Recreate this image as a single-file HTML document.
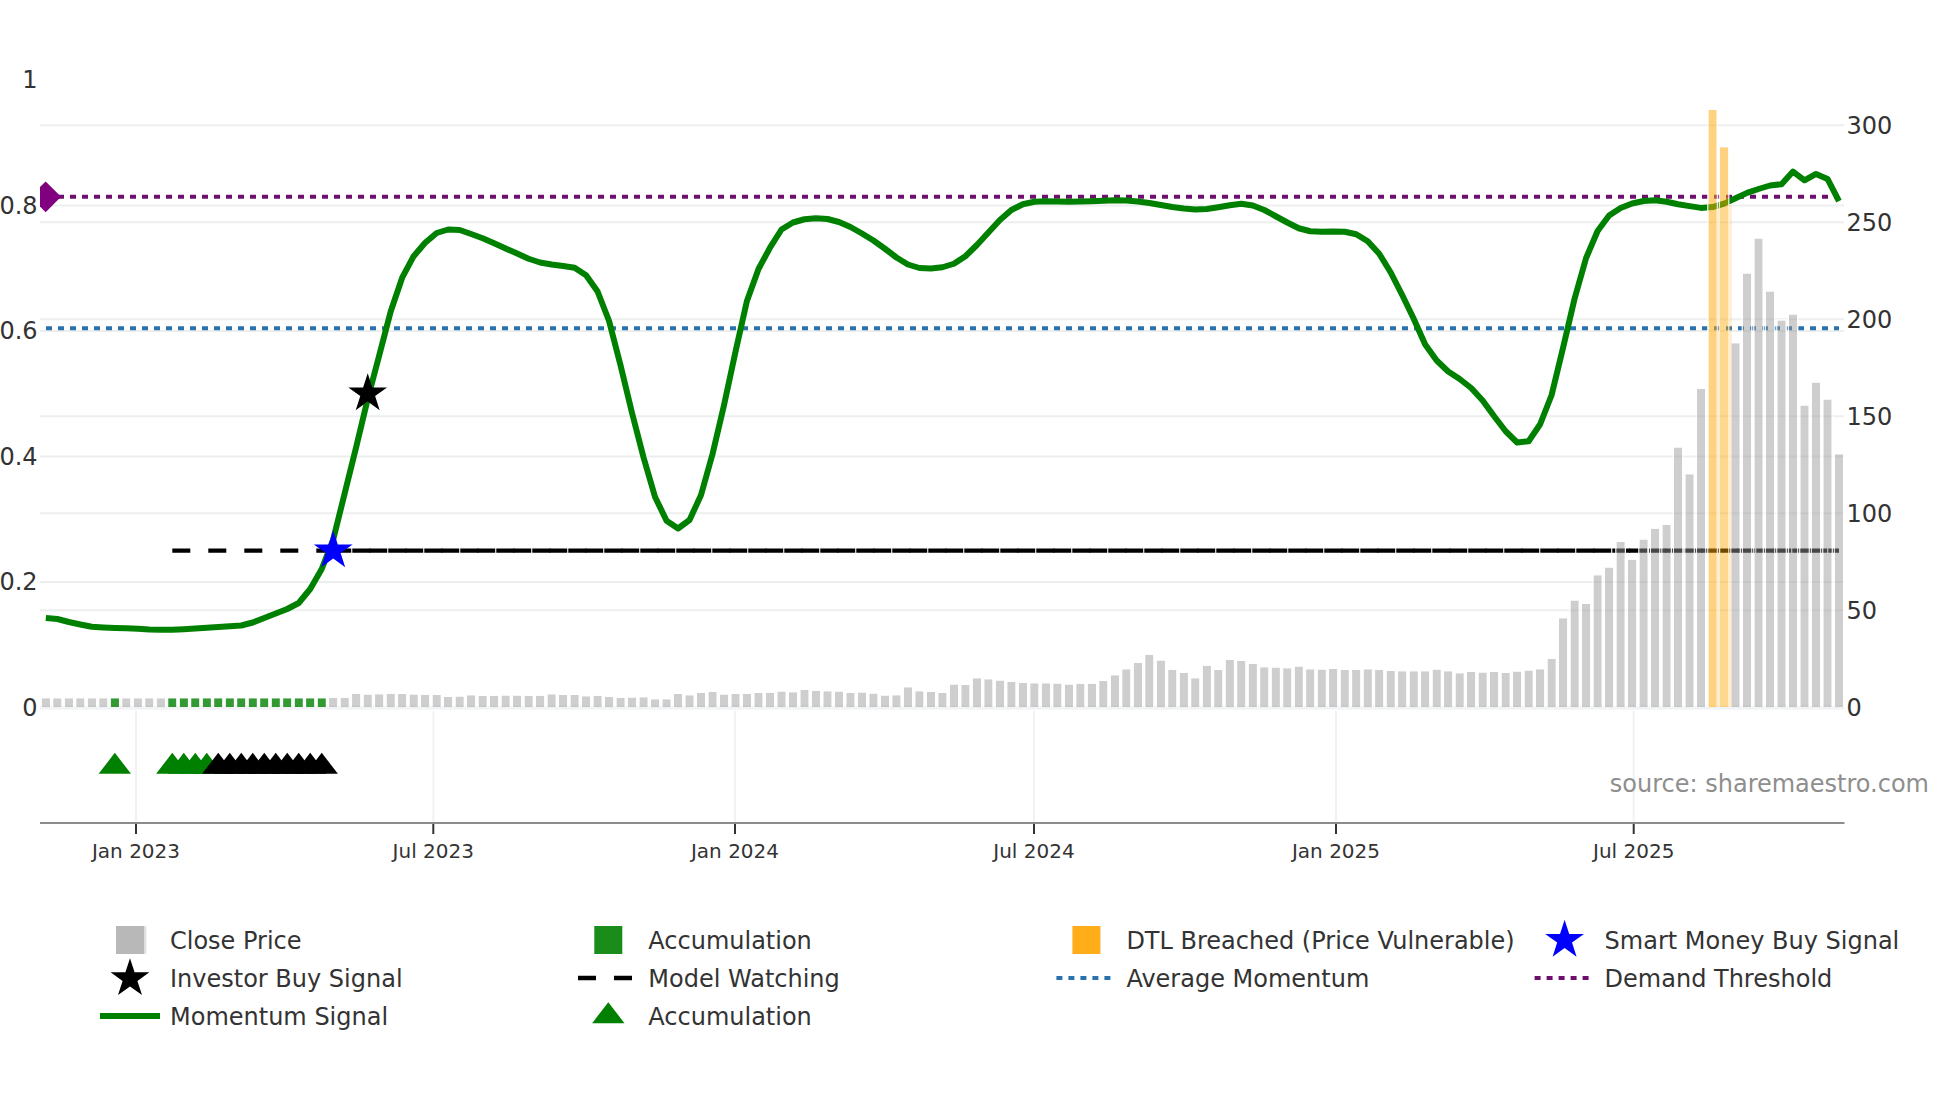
<!DOCTYPE html>
<html><head><meta charset="utf-8"><title>Momentum chart</title>
<style>html,body{margin:0;padding:0;background:#fff}svg{display:block}text{font-family:"DejaVu Sans", "Liberation Sans", sans-serif}</style>
</head><body>
<svg width="1960" height="1102" viewBox="0 0 1960 1102">
<rect width="1960" height="1102" fill="#ffffff"/>
<g stroke="#edefef" stroke-width="2" fill="none">
<line x1="40" x2="1844" y1="125.3" y2="125.3"/>
<line x1="40" x2="1844" y1="222.3" y2="222.3"/>
<line x1="40" x2="1844" y1="319.3" y2="319.3"/>
<line x1="40" x2="1844" y1="416.3" y2="416.3"/>
<line x1="40" x2="1844" y1="513.3" y2="513.3"/>
<line x1="40" x2="1844" y1="610.3" y2="610.3"/>
<line x1="40" x2="1844" y1="581.9" y2="581.9"/>
<line x1="40" x2="1844" y1="456.4" y2="456.4"/>
<line x1="40" x2="1844" y1="330.9" y2="330.9"/>
<line x1="40" x2="1844" y1="205.4" y2="205.4"/>
</g>
<line x1="40" x2="1844" y1="707.5" y2="707.5" stroke="#f0f2f3" stroke-width="4"/>
<g stroke="#f1f2f7" stroke-width="2">
<line x1="136.0" x2="136.0" y1="711" y2="823"/>
<line x1="433.3" x2="433.3" y1="711" y2="823"/>
<line x1="735.0" x2="735.0" y1="711" y2="823"/>
<line x1="1034.0" x2="1034.0" y1="711" y2="823"/>
<line x1="1336.0" x2="1336.0" y1="711" y2="823"/>
<line x1="1633.7" x2="1633.7" y1="711" y2="823"/>
</g>
<defs><clipPath id="cp"><rect x="40" y="60" width="1804" height="763"/></clipPath></defs>
<g clip-path="url(#cp)">
<line x1="46.00" x2="1838.99" y1="328.3" y2="328.3" stroke="#2a72ad" stroke-width="4" stroke-dasharray="6,6"/>
<line x1="46.00" x2="1838.99" y1="196.8" y2="196.8" stroke="#6e0f70" stroke-width="4" stroke-dasharray="6,6"/>
<path d="M61.05,196.80L45.65,212.20L30.25,196.80L45.65,181.40Z" fill="#800080"/>
<line x1="172.29" x2="1838.99" y1="550.6" y2="550.6" stroke="#000" stroke-width="4.2" stroke-dasharray="18,18"/>
<line x1="333.21" x2="1838.99" y1="550.6" y2="550.6" stroke="#000" stroke-width="4.2" stroke-dasharray="18,18"/>
<polyline points="45.85,618.00 57.34,619.00 68.84,622.00 80.33,624.50 91.83,626.75 103.32,627.50 114.82,628.00 126.31,628.25 137.81,628.75 149.30,629.50 160.80,629.75 172.29,629.75 183.78,629.25 195.28,628.50 206.77,627.75 218.27,627.00 229.76,626.25 241.26,625.50 252.75,622.50 264.25,618.00 275.74,613.50 287.23,609.00 298.73,603.00 310.22,589.00 321.72,569.00 333.21,539.50 344.71,493.30 356.20,447.00 367.70,399.00 379.19,355.50 390.69,311.50 402.18,277.70 413.67,256.20 425.17,242.80 436.66,233.00 448.16,229.50 459.65,230.00 471.15,234.00 482.64,238.25 494.14,243.25 505.63,248.50 517.12,253.50 528.62,258.75 540.11,262.50 551.61,264.50 563.10,266.00 574.60,267.75 586.09,275.30 597.59,291.50 609.08,321.00 620.58,365.40 632.07,413.10 643.56,457.50 655.06,497.00 666.55,520.70 678.05,528.50 689.54,520.00 701.04,495.00 712.53,454.00 724.03,405.10 735.52,351.60 747.01,300.70 758.51,269.00 770.00,247.70 781.50,229.50 792.99,222.50 804.49,219.25 815.98,218.25 827.48,219.00 838.97,222.00 850.47,227.00 861.96,233.50 873.45,240.50 884.95,248.75 896.44,257.50 907.94,264.50 919.43,268.00 930.93,268.50 942.42,267.25 953.92,263.75 965.41,256.25 976.90,245.00 988.40,232.50 999.89,220.00 1011.39,210.00 1022.88,204.25 1034.38,201.75 1045.87,201.25 1057.37,201.50 1068.86,201.75 1080.36,201.50 1091.85,201.25 1103.34,200.75 1114.84,200.25 1126.33,200.50 1137.83,201.50 1149.32,203.00 1160.82,205.00 1172.31,207.00 1183.81,208.50 1195.30,209.50 1206.79,209.00 1218.29,207.25 1229.78,205.25 1241.28,203.75 1252.77,205.50 1264.27,210.00 1275.76,216.25 1287.26,222.50 1298.75,228.25 1310.24,231.25 1321.74,231.75 1333.23,231.50 1344.73,231.75 1356.22,234.25 1367.72,241.25 1379.21,253.75 1390.71,272.50 1402.20,295.00 1413.70,318.75 1425.19,344.50 1436.68,360.50 1448.18,371.50 1459.67,379.00 1471.17,388.00 1482.66,400.50 1494.16,416.25 1505.65,431.25 1517.15,442.50 1528.64,441.25 1540.13,424.25 1551.63,395.00 1563.12,347.50 1574.62,298.50 1586.11,258.00 1597.61,231.00 1609.10,215.50 1620.60,208.00 1632.09,203.50 1643.59,201.00 1655.08,200.30 1666.57,201.70 1678.07,204.20 1689.56,206.10 1701.06,207.90 1712.55,207.10 1724.05,203.60 1735.54,198.30 1747.04,192.90 1758.53,189.00 1770.02,185.50 1781.52,184.20 1793.01,171.60 1804.51,180.30 1816.00,173.90 1827.50,178.90 1838.99,201.10" fill="none" stroke="#008000" stroke-width="6" stroke-linejoin="round" stroke-linecap="butt"/>
<path d="M337.80,544.40L352.61,544.40L340.62,553.11L345.21,567.20L333.21,558.49L321.22,567.20L325.81,553.11L313.81,544.40L328.62,544.40L333.21,530.30Z" fill="#0000ff"/>
<path d="M372.29,387.40L387.10,387.40L375.10,396.11L379.69,410.20L367.70,401.49L355.70,410.20L360.29,396.11L348.30,387.40L363.11,387.40L367.70,373.30Z" fill="#000000"/>
<rect x="41.70" y="698.25" width="8.30" height="8.75" fill="#969696" fill-opacity="0.47"/><path d="M41.10,707V697.65H50.60V707" fill="none" stroke="#fff" stroke-width="1.20"/>
<rect x="53.19" y="698.25" width="8.30" height="8.75" fill="#969696" fill-opacity="0.47"/><path d="M52.59,707V697.65H62.09V707" fill="none" stroke="#fff" stroke-width="1.20"/>
<rect x="64.69" y="698.25" width="8.30" height="8.75" fill="#969696" fill-opacity="0.47"/><path d="M64.09,707V697.65H73.59V707" fill="none" stroke="#fff" stroke-width="1.20"/>
<rect x="76.18" y="698.25" width="8.30" height="8.75" fill="#969696" fill-opacity="0.47"/><path d="M75.58,707V697.65H85.08V707" fill="none" stroke="#fff" stroke-width="1.20"/>
<rect x="87.68" y="698.25" width="8.30" height="8.75" fill="#969696" fill-opacity="0.47"/><path d="M87.08,707V697.65H96.58V707" fill="none" stroke="#fff" stroke-width="1.20"/>
<rect x="99.17" y="698.25" width="8.30" height="8.75" fill="#969696" fill-opacity="0.47"/><path d="M98.57,707V697.65H108.07V707" fill="none" stroke="#fff" stroke-width="1.20"/>
<rect x="110.67" y="698.25" width="8.30" height="8.75" fill="#008000" fill-opacity="0.8"/><path d="M110.07,707V697.65H119.57V707" fill="none" stroke="#fff" stroke-width="1.20"/>
<rect x="122.16" y="698.25" width="8.30" height="8.75" fill="#969696" fill-opacity="0.47"/><path d="M121.56,707V697.65H131.06V707" fill="none" stroke="#fff" stroke-width="1.20"/>
<rect x="133.66" y="698.25" width="8.30" height="8.75" fill="#969696" fill-opacity="0.47"/><path d="M133.06,707V697.65H142.56V707" fill="none" stroke="#fff" stroke-width="1.20"/>
<rect x="145.15" y="698.25" width="8.30" height="8.75" fill="#969696" fill-opacity="0.47"/><path d="M144.55,707V697.65H154.05V707" fill="none" stroke="#fff" stroke-width="1.20"/>
<rect x="156.65" y="698.25" width="8.30" height="8.75" fill="#969696" fill-opacity="0.47"/><path d="M156.05,707V697.65H165.55V707" fill="none" stroke="#fff" stroke-width="1.20"/>
<rect x="168.14" y="698.25" width="8.30" height="8.75" fill="#008000" fill-opacity="0.8"/><path d="M167.54,707V697.65H177.04V707" fill="none" stroke="#fff" stroke-width="1.20"/>
<rect x="179.63" y="698.25" width="8.30" height="8.75" fill="#008000" fill-opacity="0.8"/><path d="M179.03,707V697.65H188.53V707" fill="none" stroke="#fff" stroke-width="1.20"/>
<rect x="191.13" y="698.25" width="8.30" height="8.75" fill="#008000" fill-opacity="0.8"/><path d="M190.53,707V697.65H200.03V707" fill="none" stroke="#fff" stroke-width="1.20"/>
<rect x="202.62" y="698.25" width="8.30" height="8.75" fill="#008000" fill-opacity="0.8"/><path d="M202.02,707V697.65H211.52V707" fill="none" stroke="#fff" stroke-width="1.20"/>
<rect x="214.12" y="698.25" width="8.30" height="8.75" fill="#008000" fill-opacity="0.8"/><path d="M213.52,707V697.65H223.02V707" fill="none" stroke="#fff" stroke-width="1.20"/>
<rect x="225.61" y="698.25" width="8.30" height="8.75" fill="#008000" fill-opacity="0.8"/><path d="M225.01,707V697.65H234.51V707" fill="none" stroke="#fff" stroke-width="1.20"/>
<rect x="237.11" y="698.25" width="8.30" height="8.75" fill="#008000" fill-opacity="0.8"/><path d="M236.51,707V697.65H246.01V707" fill="none" stroke="#fff" stroke-width="1.20"/>
<rect x="248.60" y="698.25" width="8.30" height="8.75" fill="#008000" fill-opacity="0.8"/><path d="M248.00,707V697.65H257.50V707" fill="none" stroke="#fff" stroke-width="1.20"/>
<rect x="260.10" y="698.25" width="8.30" height="8.75" fill="#008000" fill-opacity="0.8"/><path d="M259.50,707V697.65H269.00V707" fill="none" stroke="#fff" stroke-width="1.20"/>
<rect x="271.59" y="698.25" width="8.30" height="8.75" fill="#008000" fill-opacity="0.8"/><path d="M270.99,707V697.65H280.49V707" fill="none" stroke="#fff" stroke-width="1.20"/>
<rect x="283.08" y="698.25" width="8.30" height="8.75" fill="#008000" fill-opacity="0.8"/><path d="M282.48,707V697.65H291.98V707" fill="none" stroke="#fff" stroke-width="1.20"/>
<rect x="294.58" y="698.25" width="8.30" height="8.75" fill="#008000" fill-opacity="0.8"/><path d="M293.98,707V697.65H303.48V707" fill="none" stroke="#fff" stroke-width="1.20"/>
<rect x="306.07" y="698.25" width="8.30" height="8.75" fill="#008000" fill-opacity="0.8"/><path d="M305.47,707V697.65H314.97V707" fill="none" stroke="#fff" stroke-width="1.20"/>
<rect x="317.57" y="698.25" width="8.30" height="8.75" fill="#008000" fill-opacity="0.8"/><path d="M316.97,707V697.65H326.47V707" fill="none" stroke="#fff" stroke-width="1.20"/>
<rect x="329.06" y="698.00" width="8.30" height="9.00" fill="#969696" fill-opacity="0.47"/><path d="M328.46,707V697.40H337.96V707" fill="none" stroke="#fff" stroke-width="1.20"/>
<rect x="340.56" y="698.00" width="8.30" height="9.00" fill="#969696" fill-opacity="0.47"/><path d="M339.96,707V697.40H349.46V707" fill="none" stroke="#fff" stroke-width="1.20"/>
<rect x="352.05" y="694.00" width="8.30" height="13.00" fill="#969696" fill-opacity="0.47"/><path d="M351.45,707V693.40H360.95V707" fill="none" stroke="#fff" stroke-width="1.20"/>
<rect x="363.55" y="694.50" width="8.30" height="12.50" fill="#969696" fill-opacity="0.47"/><path d="M362.95,707V693.90H372.45V707" fill="none" stroke="#fff" stroke-width="1.20"/>
<rect x="375.04" y="694.25" width="8.30" height="12.75" fill="#969696" fill-opacity="0.47"/><path d="M374.44,707V693.65H383.94V707" fill="none" stroke="#fff" stroke-width="1.20"/>
<rect x="386.54" y="694.00" width="8.30" height="13.00" fill="#969696" fill-opacity="0.47"/><path d="M385.94,707V693.40H395.44V707" fill="none" stroke="#fff" stroke-width="1.20"/>
<rect x="398.03" y="694.00" width="8.30" height="13.00" fill="#969696" fill-opacity="0.47"/><path d="M397.43,707V693.40H406.93V707" fill="none" stroke="#fff" stroke-width="1.20"/>
<rect x="409.52" y="694.50" width="8.30" height="12.50" fill="#969696" fill-opacity="0.47"/><path d="M408.92,707V693.90H418.42V707" fill="none" stroke="#fff" stroke-width="1.20"/>
<rect x="421.02" y="694.75" width="8.30" height="12.25" fill="#969696" fill-opacity="0.47"/><path d="M420.42,707V694.15H429.92V707" fill="none" stroke="#fff" stroke-width="1.20"/>
<rect x="432.51" y="695.00" width="8.30" height="12.00" fill="#969696" fill-opacity="0.47"/><path d="M431.91,707V694.40H441.41V707" fill="none" stroke="#fff" stroke-width="1.20"/>
<rect x="444.01" y="697.00" width="8.30" height="10.00" fill="#969696" fill-opacity="0.47"/><path d="M443.41,707V696.40H452.91V707" fill="none" stroke="#fff" stroke-width="1.20"/>
<rect x="455.50" y="696.50" width="8.30" height="10.50" fill="#969696" fill-opacity="0.47"/><path d="M454.90,707V695.90H464.40V707" fill="none" stroke="#fff" stroke-width="1.20"/>
<rect x="467.00" y="695.25" width="8.30" height="11.75" fill="#969696" fill-opacity="0.47"/><path d="M466.40,707V694.65H475.90V707" fill="none" stroke="#fff" stroke-width="1.20"/>
<rect x="478.49" y="696.00" width="8.30" height="11.00" fill="#969696" fill-opacity="0.47"/><path d="M477.89,707V695.40H487.39V707" fill="none" stroke="#fff" stroke-width="1.20"/>
<rect x="489.99" y="695.75" width="8.30" height="11.25" fill="#969696" fill-opacity="0.47"/><path d="M489.39,707V695.15H498.89V707" fill="none" stroke="#fff" stroke-width="1.20"/>
<rect x="501.48" y="695.50" width="8.30" height="11.50" fill="#969696" fill-opacity="0.47"/><path d="M500.88,707V694.90H510.38V707" fill="none" stroke="#fff" stroke-width="1.20"/>
<rect x="512.97" y="695.50" width="8.30" height="11.50" fill="#969696" fill-opacity="0.47"/><path d="M512.37,707V694.90H521.87V707" fill="none" stroke="#fff" stroke-width="1.20"/>
<rect x="524.47" y="695.75" width="8.30" height="11.25" fill="#969696" fill-opacity="0.47"/><path d="M523.87,707V695.15H533.37V707" fill="none" stroke="#fff" stroke-width="1.20"/>
<rect x="535.96" y="695.75" width="8.30" height="11.25" fill="#969696" fill-opacity="0.47"/><path d="M535.36,707V695.15H544.86V707" fill="none" stroke="#fff" stroke-width="1.20"/>
<rect x="547.46" y="694.25" width="8.30" height="12.75" fill="#969696" fill-opacity="0.47"/><path d="M546.86,707V693.65H556.36V707" fill="none" stroke="#fff" stroke-width="1.20"/>
<rect x="558.95" y="695.00" width="8.30" height="12.00" fill="#969696" fill-opacity="0.47"/><path d="M558.35,707V694.40H567.85V707" fill="none" stroke="#fff" stroke-width="1.20"/>
<rect x="570.45" y="695.00" width="8.30" height="12.00" fill="#969696" fill-opacity="0.47"/><path d="M569.85,707V694.40H579.35V707" fill="none" stroke="#fff" stroke-width="1.20"/>
<rect x="581.94" y="696.25" width="8.30" height="10.75" fill="#969696" fill-opacity="0.47"/><path d="M581.34,707V695.65H590.84V707" fill="none" stroke="#fff" stroke-width="1.20"/>
<rect x="593.44" y="695.75" width="8.30" height="11.25" fill="#969696" fill-opacity="0.47"/><path d="M592.84,707V695.15H602.34V707" fill="none" stroke="#fff" stroke-width="1.20"/>
<rect x="604.93" y="697.00" width="8.30" height="10.00" fill="#969696" fill-opacity="0.47"/><path d="M604.33,707V696.40H613.83V707" fill="none" stroke="#fff" stroke-width="1.20"/>
<rect x="616.43" y="698.00" width="8.30" height="9.00" fill="#969696" fill-opacity="0.47"/><path d="M615.83,707V697.40H625.33V707" fill="none" stroke="#fff" stroke-width="1.20"/>
<rect x="627.92" y="697.50" width="8.30" height="9.50" fill="#969696" fill-opacity="0.47"/><path d="M627.32,707V696.90H636.82V707" fill="none" stroke="#fff" stroke-width="1.20"/>
<rect x="639.41" y="697.25" width="8.30" height="9.75" fill="#969696" fill-opacity="0.47"/><path d="M638.81,707V696.65H648.31V707" fill="none" stroke="#fff" stroke-width="1.20"/>
<rect x="650.91" y="699.25" width="8.30" height="7.75" fill="#969696" fill-opacity="0.47"/><path d="M650.31,707V698.65H659.81V707" fill="none" stroke="#fff" stroke-width="1.20"/>
<rect x="662.40" y="699.25" width="8.30" height="7.75" fill="#969696" fill-opacity="0.47"/><path d="M661.80,707V698.65H671.30V707" fill="none" stroke="#fff" stroke-width="1.20"/>
<rect x="673.90" y="694.00" width="8.30" height="13.00" fill="#969696" fill-opacity="0.47"/><path d="M673.30,707V693.40H682.80V707" fill="none" stroke="#fff" stroke-width="1.20"/>
<rect x="685.39" y="695.25" width="8.30" height="11.75" fill="#969696" fill-opacity="0.47"/><path d="M684.79,707V694.65H694.29V707" fill="none" stroke="#fff" stroke-width="1.20"/>
<rect x="696.89" y="693.00" width="8.30" height="14.00" fill="#969696" fill-opacity="0.47"/><path d="M696.29,707V692.40H705.79V707" fill="none" stroke="#fff" stroke-width="1.20"/>
<rect x="708.38" y="692.00" width="8.30" height="15.00" fill="#969696" fill-opacity="0.47"/><path d="M707.78,707V691.40H717.28V707" fill="none" stroke="#fff" stroke-width="1.20"/>
<rect x="719.88" y="694.50" width="8.30" height="12.50" fill="#969696" fill-opacity="0.47"/><path d="M719.28,707V693.90H728.78V707" fill="none" stroke="#fff" stroke-width="1.20"/>
<rect x="731.37" y="694.00" width="8.30" height="13.00" fill="#969696" fill-opacity="0.47"/><path d="M730.77,707V693.40H740.27V707" fill="none" stroke="#fff" stroke-width="1.20"/>
<rect x="742.86" y="693.75" width="8.30" height="13.25" fill="#969696" fill-opacity="0.47"/><path d="M742.26,707V693.15H751.76V707" fill="none" stroke="#fff" stroke-width="1.20"/>
<rect x="754.36" y="693.00" width="8.30" height="14.00" fill="#969696" fill-opacity="0.47"/><path d="M753.76,707V692.40H763.26V707" fill="none" stroke="#fff" stroke-width="1.20"/>
<rect x="765.85" y="692.75" width="8.30" height="14.25" fill="#969696" fill-opacity="0.47"/><path d="M765.25,707V692.15H774.75V707" fill="none" stroke="#fff" stroke-width="1.20"/>
<rect x="777.35" y="691.50" width="8.30" height="15.50" fill="#969696" fill-opacity="0.47"/><path d="M776.75,707V690.90H786.25V707" fill="none" stroke="#fff" stroke-width="1.20"/>
<rect x="788.84" y="692.25" width="8.30" height="14.75" fill="#969696" fill-opacity="0.47"/><path d="M788.24,707V691.65H797.74V707" fill="none" stroke="#fff" stroke-width="1.20"/>
<rect x="800.34" y="690.00" width="8.30" height="17.00" fill="#969696" fill-opacity="0.47"/><path d="M799.74,707V689.40H809.24V707" fill="none" stroke="#fff" stroke-width="1.20"/>
<rect x="811.83" y="690.75" width="8.30" height="16.25" fill="#969696" fill-opacity="0.47"/><path d="M811.23,707V690.15H820.73V707" fill="none" stroke="#fff" stroke-width="1.20"/>
<rect x="823.33" y="691.25" width="8.30" height="15.75" fill="#969696" fill-opacity="0.47"/><path d="M822.73,707V690.65H832.23V707" fill="none" stroke="#fff" stroke-width="1.20"/>
<rect x="834.82" y="691.50" width="8.30" height="15.50" fill="#969696" fill-opacity="0.47"/><path d="M834.22,707V690.90H843.72V707" fill="none" stroke="#fff" stroke-width="1.20"/>
<rect x="846.32" y="693.00" width="8.30" height="14.00" fill="#969696" fill-opacity="0.47"/><path d="M845.72,707V692.40H855.22V707" fill="none" stroke="#fff" stroke-width="1.20"/>
<rect x="857.81" y="692.50" width="8.30" height="14.50" fill="#969696" fill-opacity="0.47"/><path d="M857.21,707V691.90H866.71V707" fill="none" stroke="#fff" stroke-width="1.20"/>
<rect x="869.30" y="693.50" width="8.30" height="13.50" fill="#969696" fill-opacity="0.47"/><path d="M868.70,707V692.90H878.20V707" fill="none" stroke="#fff" stroke-width="1.20"/>
<rect x="880.80" y="695.50" width="8.30" height="11.50" fill="#969696" fill-opacity="0.47"/><path d="M880.20,707V694.90H889.70V707" fill="none" stroke="#fff" stroke-width="1.20"/>
<rect x="892.29" y="695.25" width="8.30" height="11.75" fill="#969696" fill-opacity="0.47"/><path d="M891.69,707V694.65H901.19V707" fill="none" stroke="#fff" stroke-width="1.20"/>
<rect x="903.79" y="687.25" width="8.30" height="19.75" fill="#969696" fill-opacity="0.47"/><path d="M903.19,707V686.65H912.69V707" fill="none" stroke="#fff" stroke-width="1.20"/>
<rect x="915.28" y="691.25" width="8.30" height="15.75" fill="#969696" fill-opacity="0.47"/><path d="M914.68,707V690.65H924.18V707" fill="none" stroke="#fff" stroke-width="1.20"/>
<rect x="926.78" y="691.75" width="8.30" height="15.25" fill="#969696" fill-opacity="0.47"/><path d="M926.18,707V691.15H935.68V707" fill="none" stroke="#fff" stroke-width="1.20"/>
<rect x="938.27" y="693.00" width="8.30" height="14.00" fill="#969696" fill-opacity="0.47"/><path d="M937.67,707V692.40H947.17V707" fill="none" stroke="#fff" stroke-width="1.20"/>
<rect x="949.77" y="684.50" width="8.30" height="22.50" fill="#969696" fill-opacity="0.47"/><path d="M949.17,707V683.90H958.67V707" fill="none" stroke="#fff" stroke-width="1.20"/>
<rect x="961.26" y="685.00" width="8.30" height="22.00" fill="#969696" fill-opacity="0.47"/><path d="M960.66,707V684.40H970.16V707" fill="none" stroke="#fff" stroke-width="1.20"/>
<rect x="972.75" y="678.25" width="8.30" height="28.75" fill="#969696" fill-opacity="0.47"/><path d="M972.15,707V677.65H981.65V707" fill="none" stroke="#fff" stroke-width="1.20"/>
<rect x="984.25" y="679.25" width="8.30" height="27.75" fill="#969696" fill-opacity="0.47"/><path d="M983.65,707V678.65H993.15V707" fill="none" stroke="#fff" stroke-width="1.20"/>
<rect x="995.74" y="680.50" width="8.30" height="26.50" fill="#969696" fill-opacity="0.47"/><path d="M995.14,707V679.90H1004.64V707" fill="none" stroke="#fff" stroke-width="1.20"/>
<rect x="1007.24" y="682.00" width="8.30" height="25.00" fill="#969696" fill-opacity="0.47"/><path d="M1006.64,707V681.40H1016.14V707" fill="none" stroke="#fff" stroke-width="1.20"/>
<rect x="1018.73" y="683.00" width="8.30" height="24.00" fill="#969696" fill-opacity="0.47"/><path d="M1018.13,707V682.40H1027.63V707" fill="none" stroke="#fff" stroke-width="1.20"/>
<rect x="1030.23" y="683.25" width="8.30" height="23.75" fill="#969696" fill-opacity="0.47"/><path d="M1029.63,707V682.65H1039.13V707" fill="none" stroke="#fff" stroke-width="1.20"/>
<rect x="1041.72" y="683.25" width="8.30" height="23.75" fill="#969696" fill-opacity="0.47"/><path d="M1041.12,707V682.65H1050.62V707" fill="none" stroke="#fff" stroke-width="1.20"/>
<rect x="1053.22" y="683.50" width="8.30" height="23.50" fill="#969696" fill-opacity="0.47"/><path d="M1052.62,707V682.90H1062.12V707" fill="none" stroke="#fff" stroke-width="1.20"/>
<rect x="1064.71" y="684.50" width="8.30" height="22.50" fill="#969696" fill-opacity="0.47"/><path d="M1064.11,707V683.90H1073.61V707" fill="none" stroke="#fff" stroke-width="1.20"/>
<rect x="1076.20" y="683.75" width="8.30" height="23.25" fill="#969696" fill-opacity="0.47"/><path d="M1075.61,707V683.15H1085.11V707" fill="none" stroke="#fff" stroke-width="1.20"/>
<rect x="1087.70" y="683.75" width="8.30" height="23.25" fill="#969696" fill-opacity="0.47"/><path d="M1087.10,707V683.15H1096.60V707" fill="none" stroke="#fff" stroke-width="1.20"/>
<rect x="1099.19" y="681.00" width="8.30" height="26.00" fill="#969696" fill-opacity="0.47"/><path d="M1098.59,707V680.40H1108.09V707" fill="none" stroke="#fff" stroke-width="1.20"/>
<rect x="1110.69" y="675.25" width="8.30" height="31.75" fill="#969696" fill-opacity="0.47"/><path d="M1110.09,707V674.65H1119.59V707" fill="none" stroke="#fff" stroke-width="1.20"/>
<rect x="1122.18" y="669.25" width="8.30" height="37.75" fill="#969696" fill-opacity="0.47"/><path d="M1121.58,707V668.65H1131.08V707" fill="none" stroke="#fff" stroke-width="1.20"/>
<rect x="1133.68" y="663.00" width="8.30" height="44.00" fill="#969696" fill-opacity="0.47"/><path d="M1133.08,707V662.40H1142.58V707" fill="none" stroke="#fff" stroke-width="1.20"/>
<rect x="1145.17" y="654.75" width="8.30" height="52.25" fill="#969696" fill-opacity="0.47"/><path d="M1144.57,707V654.15H1154.07V707" fill="none" stroke="#fff" stroke-width="1.20"/>
<rect x="1156.67" y="660.50" width="8.30" height="46.50" fill="#969696" fill-opacity="0.47"/><path d="M1156.07,707V659.90H1165.57V707" fill="none" stroke="#fff" stroke-width="1.20"/>
<rect x="1168.16" y="669.75" width="8.30" height="37.25" fill="#969696" fill-opacity="0.47"/><path d="M1167.56,707V669.15H1177.06V707" fill="none" stroke="#fff" stroke-width="1.20"/>
<rect x="1179.66" y="673.00" width="8.30" height="34.00" fill="#969696" fill-opacity="0.47"/><path d="M1179.06,707V672.40H1188.56V707" fill="none" stroke="#fff" stroke-width="1.20"/>
<rect x="1191.15" y="678.25" width="8.30" height="28.75" fill="#969696" fill-opacity="0.47"/><path d="M1190.55,707V677.65H1200.05V707" fill="none" stroke="#fff" stroke-width="1.20"/>
<rect x="1202.64" y="665.75" width="8.30" height="41.25" fill="#969696" fill-opacity="0.47"/><path d="M1202.04,707V665.15H1211.54V707" fill="none" stroke="#fff" stroke-width="1.20"/>
<rect x="1214.14" y="670.00" width="8.30" height="37.00" fill="#969696" fill-opacity="0.47"/><path d="M1213.54,707V669.40H1223.04V707" fill="none" stroke="#fff" stroke-width="1.20"/>
<rect x="1225.63" y="659.75" width="8.30" height="47.25" fill="#969696" fill-opacity="0.47"/><path d="M1225.03,707V659.15H1234.53V707" fill="none" stroke="#fff" stroke-width="1.20"/>
<rect x="1237.13" y="661.00" width="8.30" height="46.00" fill="#969696" fill-opacity="0.47"/><path d="M1236.53,707V660.40H1246.03V707" fill="none" stroke="#fff" stroke-width="1.20"/>
<rect x="1248.62" y="663.75" width="8.30" height="43.25" fill="#969696" fill-opacity="0.47"/><path d="M1248.02,707V663.15H1257.52V707" fill="none" stroke="#fff" stroke-width="1.20"/>
<rect x="1260.12" y="667.25" width="8.30" height="39.75" fill="#969696" fill-opacity="0.47"/><path d="M1259.52,707V666.65H1269.02V707" fill="none" stroke="#fff" stroke-width="1.20"/>
<rect x="1271.61" y="667.50" width="8.30" height="39.50" fill="#969696" fill-opacity="0.47"/><path d="M1271.01,707V666.90H1280.51V707" fill="none" stroke="#fff" stroke-width="1.20"/>
<rect x="1283.11" y="668.25" width="8.30" height="38.75" fill="#969696" fill-opacity="0.47"/><path d="M1282.51,707V667.65H1292.01V707" fill="none" stroke="#fff" stroke-width="1.20"/>
<rect x="1294.60" y="666.50" width="8.30" height="40.50" fill="#969696" fill-opacity="0.47"/><path d="M1294.00,707V665.90H1303.50V707" fill="none" stroke="#fff" stroke-width="1.20"/>
<rect x="1306.09" y="669.25" width="8.30" height="37.75" fill="#969696" fill-opacity="0.47"/><path d="M1305.49,707V668.65H1314.99V707" fill="none" stroke="#fff" stroke-width="1.20"/>
<rect x="1317.59" y="669.50" width="8.30" height="37.50" fill="#969696" fill-opacity="0.47"/><path d="M1316.99,707V668.90H1326.49V707" fill="none" stroke="#fff" stroke-width="1.20"/>
<rect x="1329.08" y="669.00" width="8.30" height="38.00" fill="#969696" fill-opacity="0.47"/><path d="M1328.48,707V668.40H1337.98V707" fill="none" stroke="#fff" stroke-width="1.20"/>
<rect x="1340.58" y="670.00" width="8.30" height="37.00" fill="#969696" fill-opacity="0.47"/><path d="M1339.98,707V669.40H1349.48V707" fill="none" stroke="#fff" stroke-width="1.20"/>
<rect x="1352.07" y="670.00" width="8.30" height="37.00" fill="#969696" fill-opacity="0.47"/><path d="M1351.47,707V669.40H1360.97V707" fill="none" stroke="#fff" stroke-width="1.20"/>
<rect x="1363.57" y="669.25" width="8.30" height="37.75" fill="#969696" fill-opacity="0.47"/><path d="M1362.97,707V668.65H1372.47V707" fill="none" stroke="#fff" stroke-width="1.20"/>
<rect x="1375.06" y="669.75" width="8.30" height="37.25" fill="#969696" fill-opacity="0.47"/><path d="M1374.46,707V669.15H1383.96V707" fill="none" stroke="#fff" stroke-width="1.20"/>
<rect x="1386.56" y="671.00" width="8.30" height="36.00" fill="#969696" fill-opacity="0.47"/><path d="M1385.96,707V670.40H1395.46V707" fill="none" stroke="#fff" stroke-width="1.20"/>
<rect x="1398.05" y="671.25" width="8.30" height="35.75" fill="#969696" fill-opacity="0.47"/><path d="M1397.45,707V670.65H1406.95V707" fill="none" stroke="#fff" stroke-width="1.20"/>
<rect x="1409.55" y="671.25" width="8.30" height="35.75" fill="#969696" fill-opacity="0.47"/><path d="M1408.95,707V670.65H1418.45V707" fill="none" stroke="#fff" stroke-width="1.20"/>
<rect x="1421.04" y="671.25" width="8.30" height="35.75" fill="#969696" fill-opacity="0.47"/><path d="M1420.44,707V670.65H1429.94V707" fill="none" stroke="#fff" stroke-width="1.20"/>
<rect x="1432.53" y="669.50" width="8.30" height="37.50" fill="#969696" fill-opacity="0.47"/><path d="M1431.93,707V668.90H1441.43V707" fill="none" stroke="#fff" stroke-width="1.20"/>
<rect x="1444.03" y="671.25" width="8.30" height="35.75" fill="#969696" fill-opacity="0.47"/><path d="M1443.43,707V670.65H1452.93V707" fill="none" stroke="#fff" stroke-width="1.20"/>
<rect x="1455.52" y="673.25" width="8.30" height="33.75" fill="#969696" fill-opacity="0.47"/><path d="M1454.92,707V672.65H1464.42V707" fill="none" stroke="#fff" stroke-width="1.20"/>
<rect x="1467.02" y="671.75" width="8.30" height="35.25" fill="#969696" fill-opacity="0.47"/><path d="M1466.42,707V671.15H1475.92V707" fill="none" stroke="#fff" stroke-width="1.20"/>
<rect x="1478.51" y="672.50" width="8.30" height="34.50" fill="#969696" fill-opacity="0.47"/><path d="M1477.91,707V671.90H1487.41V707" fill="none" stroke="#fff" stroke-width="1.20"/>
<rect x="1490.01" y="672.00" width="8.30" height="35.00" fill="#969696" fill-opacity="0.47"/><path d="M1489.41,707V671.40H1498.91V707" fill="none" stroke="#fff" stroke-width="1.20"/>
<rect x="1501.50" y="673.00" width="8.30" height="34.00" fill="#969696" fill-opacity="0.47"/><path d="M1500.90,707V672.40H1510.40V707" fill="none" stroke="#fff" stroke-width="1.20"/>
<rect x="1513.00" y="671.50" width="8.30" height="35.50" fill="#969696" fill-opacity="0.47"/><path d="M1512.40,707V670.90H1521.90V707" fill="none" stroke="#fff" stroke-width="1.20"/>
<rect x="1524.49" y="670.50" width="8.30" height="36.50" fill="#969696" fill-opacity="0.47"/><path d="M1523.89,707V669.90H1533.39V707" fill="none" stroke="#fff" stroke-width="1.20"/>
<rect x="1535.98" y="669.25" width="8.30" height="37.75" fill="#969696" fill-opacity="0.47"/><path d="M1535.38,707V668.65H1544.88V707" fill="none" stroke="#fff" stroke-width="1.20"/>
<rect x="1547.48" y="659.00" width="8.30" height="48.00" fill="#969696" fill-opacity="0.47"/><path d="M1546.88,707V658.40H1556.38V707" fill="none" stroke="#fff" stroke-width="1.20"/>
<rect x="1558.97" y="618.25" width="8.30" height="88.75" fill="#969696" fill-opacity="0.47"/><path d="M1558.37,707V617.65H1567.87V707" fill="none" stroke="#fff" stroke-width="1.20"/>
<rect x="1570.47" y="600.50" width="8.30" height="106.50" fill="#969696" fill-opacity="0.47"/><path d="M1569.87,707V599.90H1579.37V707" fill="none" stroke="#fff" stroke-width="1.20"/>
<rect x="1581.96" y="604.00" width="8.30" height="103.00" fill="#969696" fill-opacity="0.47"/><path d="M1581.36,707V603.40H1590.86V707" fill="none" stroke="#fff" stroke-width="1.20"/>
<rect x="1593.46" y="575.25" width="8.30" height="131.75" fill="#969696" fill-opacity="0.47"/><path d="M1592.86,707V574.65H1602.36V707" fill="none" stroke="#fff" stroke-width="1.20"/>
<rect x="1604.95" y="567.50" width="8.30" height="139.50" fill="#969696" fill-opacity="0.47"/><path d="M1604.35,707V566.90H1613.85V707" fill="none" stroke="#fff" stroke-width="1.20"/>
<rect x="1616.45" y="542.00" width="8.30" height="165.00" fill="#969696" fill-opacity="0.47"/><path d="M1615.85,707V541.40H1625.35V707" fill="none" stroke="#fff" stroke-width="1.20"/>
<rect x="1627.94" y="560.00" width="8.30" height="147.00" fill="#969696" fill-opacity="0.47"/><path d="M1627.34,707V559.40H1636.84V707" fill="none" stroke="#fff" stroke-width="1.20"/>
<rect x="1639.44" y="539.50" width="8.30" height="167.50" fill="#969696" fill-opacity="0.47"/><path d="M1638.84,707V538.90H1648.34V707" fill="none" stroke="#fff" stroke-width="1.20"/>
<rect x="1650.93" y="528.75" width="8.30" height="178.25" fill="#969696" fill-opacity="0.47"/><path d="M1650.33,707V528.15H1659.83V707" fill="none" stroke="#fff" stroke-width="1.20"/>
<rect x="1662.42" y="525.00" width="8.30" height="182.00" fill="#969696" fill-opacity="0.47"/><path d="M1661.82,707V524.40H1671.32V707" fill="none" stroke="#fff" stroke-width="1.20"/>
<rect x="1673.92" y="447.50" width="8.30" height="259.50" fill="#969696" fill-opacity="0.47"/><path d="M1673.32,707V446.90H1682.82V707" fill="none" stroke="#fff" stroke-width="1.20"/>
<rect x="1685.41" y="474.25" width="8.30" height="232.75" fill="#969696" fill-opacity="0.47"/><path d="M1684.81,707V473.65H1694.31V707" fill="none" stroke="#fff" stroke-width="1.20"/>
<rect x="1696.91" y="388.75" width="8.30" height="318.25" fill="#969696" fill-opacity="0.47"/><path d="M1696.31,707V388.15H1705.81V707" fill="none" stroke="#fff" stroke-width="1.20"/>
<rect x="1708.40" y="110.00" width="8.30" height="597.00" fill="#ffa500" fill-opacity="0.5"/><path d="M1707.80,707V109.40H1717.30V707" fill="none" stroke="#fff" stroke-width="1.20"/>
<rect x="1719.90" y="147.30" width="8.30" height="559.70" fill="#ffa500" fill-opacity="0.3"/><path d="M1719.30,707V146.70H1728.80V707" fill="none" stroke="#fff" stroke-width="1.20"/>
<rect x="1731.39" y="343.25" width="8.30" height="363.75" fill="#969696" fill-opacity="0.47"/><path d="M1730.79,707V342.65H1740.29V707" fill="none" stroke="#fff" stroke-width="1.20"/>
<rect x="1742.89" y="273.50" width="8.30" height="433.50" fill="#969696" fill-opacity="0.47"/><path d="M1742.29,707V272.90H1751.79V707" fill="none" stroke="#fff" stroke-width="1.20"/>
<rect x="1754.38" y="238.50" width="8.30" height="468.50" fill="#969696" fill-opacity="0.47"/><path d="M1753.78,707V237.90H1763.28V707" fill="none" stroke="#fff" stroke-width="1.20"/>
<rect x="1765.87" y="291.40" width="8.30" height="415.60" fill="#969696" fill-opacity="0.47"/><path d="M1765.27,707V290.80H1774.77V707" fill="none" stroke="#fff" stroke-width="1.20"/>
<rect x="1777.37" y="320.50" width="8.30" height="386.50" fill="#969696" fill-opacity="0.47"/><path d="M1776.77,707V319.90H1786.27V707" fill="none" stroke="#fff" stroke-width="1.20"/>
<rect x="1788.86" y="314.50" width="8.30" height="392.50" fill="#969696" fill-opacity="0.47"/><path d="M1788.26,707V313.90H1797.76V707" fill="none" stroke="#fff" stroke-width="1.20"/>
<rect x="1800.36" y="405.50" width="8.30" height="301.50" fill="#969696" fill-opacity="0.47"/><path d="M1799.76,707V404.90H1809.26V707" fill="none" stroke="#fff" stroke-width="1.20"/>
<rect x="1811.85" y="382.50" width="8.30" height="324.50" fill="#969696" fill-opacity="0.47"/><path d="M1811.25,707V381.90H1820.75V707" fill="none" stroke="#fff" stroke-width="1.20"/>
<rect x="1823.35" y="399.50" width="8.30" height="307.50" fill="#969696" fill-opacity="0.47"/><path d="M1822.75,707V398.90H1832.25V707" fill="none" stroke="#fff" stroke-width="1.20"/>
<rect x="1834.84" y="454.25" width="8.30" height="252.75" fill="#969696" fill-opacity="0.47"/><path d="M1834.24,707V453.65H1843.74V707" fill="none" stroke="#fff" stroke-width="1.20"/>
<rect x="1716.4" y="205" width="15.4" height="502" fill="#ffa500" fill-opacity="0.19"/>
<rect x="1719.90" y="147.3" width="8.3" height="57.7" fill="#ffa500" fill-opacity="0.28"/>
<path d="M98.65,773.80H130.98L114.82,752.80Z" fill="#008000"/>
<path d="M156.12,773.80H188.46L172.29,752.80Z" fill="#008000"/>
<path d="M167.62,773.80H199.95L183.78,752.80Z" fill="#008000"/>
<path d="M179.11,773.80H211.44L195.28,752.80Z" fill="#008000"/>
<path d="M190.61,773.80H222.94L206.77,752.80Z" fill="#008000"/>
<path d="M202.10,773.80H234.43L218.27,752.80Z" fill="#000000"/>
<path d="M213.60,773.80H245.93L229.76,752.80Z" fill="#000000"/>
<path d="M225.09,773.80H257.42L241.26,752.80Z" fill="#000000"/>
<path d="M236.59,773.80H268.92L252.75,752.80Z" fill="#000000"/>
<path d="M248.08,773.80H280.41L264.25,752.80Z" fill="#000000"/>
<path d="M259.57,773.80H291.91L275.74,752.80Z" fill="#000000"/>
<path d="M271.07,773.80H303.40L287.23,752.80Z" fill="#000000"/>
<path d="M282.56,773.80H314.89L298.73,752.80Z" fill="#000000"/>
<path d="M294.06,773.80H326.39L310.22,752.80Z" fill="#000000"/>
<path d="M305.55,773.80H337.88L321.72,752.80Z" fill="#000000"/>
</g>
<line x1="40" x2="1844.5" y1="823" y2="823" stroke="#8c8c8c" stroke-width="2"/>
<line x1="136.0" x2="136.0" y1="824" y2="834" stroke="#333" stroke-width="2"/>
<line x1="433.3" x2="433.3" y1="824" y2="834" stroke="#333" stroke-width="2"/>
<line x1="735.0" x2="735.0" y1="824" y2="834" stroke="#333" stroke-width="2"/>
<line x1="1034.0" x2="1034.0" y1="824" y2="834" stroke="#333" stroke-width="2"/>
<line x1="1336.0" x2="1336.0" y1="824" y2="834" stroke="#333" stroke-width="2"/>
<line x1="1633.7" x2="1633.7" y1="824" y2="834" stroke="#333" stroke-width="2"/>
<g font-size="20" fill="#333333" text-anchor="middle">
<text x="136.0" y="857.7">Jan 2023</text>
<text x="433.3" y="857.7">Jul 2023</text>
<text x="735.0" y="857.7">Jan 2024</text>
<text x="1034.0" y="857.7">Jul 2024</text>
<text x="1336.0" y="857.7">Jan 2025</text>
<text x="1633.7" y="857.7">Jul 2025</text>
</g>
<g font-size="24" fill="#333333" text-anchor="end">
<text x="37.6" y="88.2">1</text>
<text x="37.6" y="213.8">0.8</text>
<text x="37.6" y="339.2">0.6</text>
<text x="37.6" y="464.8">0.4</text>
<text x="37.6" y="590.2">0.2</text>
<text x="37.6" y="715.8">0</text>
</g>
<g font-size="24" fill="#333333" text-anchor="start">
<text x="1846.5" y="134.1">300</text>
<text x="1846.5" y="231.1">250</text>
<text x="1846.5" y="328.1">200</text>
<text x="1846.5" y="425.1">150</text>
<text x="1846.5" y="522.0">100</text>
<text x="1846.5" y="619.0">50</text>
<text x="1846.5" y="716.0">0</text>
</g>
<text x="1929" y="792" font-size="24" fill="#8e8e8e" text-anchor="end">source: sharemaestro.com</text>
<rect x="116.0" y="926.0" width="28" height="28" fill="#b8b8b8" fill-opacity="1"/>
<rect x="144" y="926" width="2.3" height="28" fill="#b8b8b8" fill-opacity="0.45"/>
<text x="170.0" y="948.8" font-size="24" fill="#333333">Close Price</text>
<rect x="594.3" y="926.0" width="28" height="28" fill="#008000" fill-opacity="0.9"/>
<text x="648.3" y="948.8" font-size="24" fill="#333333">Accumulation</text>
<rect x="1072.4" y="926.0" width="28" height="28" fill="#ffa500" fill-opacity="0.9"/>
<text x="1126.4" y="948.8" font-size="24" fill="#333333">DTL Breached (Price Vulnerable)</text>
<path d="M1569.19,933.90L1584.00,933.90L1572.01,942.61L1576.60,956.70L1564.60,947.99L1552.60,956.70L1557.19,942.61L1545.20,933.90L1560.01,933.90L1564.60,919.80Z" fill="#0000ff"/>
<text x="1604.6" y="948.8" font-size="24" fill="#333333">Smart Money Buy Signal</text>
<path d="M134.59,972.30L149.40,972.30L137.41,981.01L142.00,995.10L130.00,986.39L118.00,995.10L122.59,981.01L110.60,972.30L125.41,972.30L130.00,958.20Z" fill="#000000"/>
<text x="170.0" y="986.8" font-size="24" fill="#333333">Investor Buy Signal</text>
<line x1="578.0" x2="638.0" y1="978.0" y2="978.0" stroke="#000" stroke-width="4.4" stroke-dasharray="18,18"/>
<text x="648.3" y="986.8" font-size="24" fill="#333333">Model Watching</text>
<line x1="1056.4" x2="1116.4" y1="978.0" y2="978.0" stroke="#2a72ad" stroke-width="4.2" stroke-dasharray="6,6"/>
<text x="1126.4" y="986.8" font-size="24" fill="#333333">Average Momentum</text>
<line x1="1534.6" x2="1594.6" y1="978.0" y2="978.0" stroke="#6e0f70" stroke-width="4.2" stroke-dasharray="6,6"/>
<text x="1604.6" y="986.8" font-size="24" fill="#333333">Demand Threshold</text>
<line x1="100.0" x2="160.0" y1="1016.0" y2="1016.0" stroke="#008000" stroke-width="6"/>
<text x="170.0" y="1024.8" font-size="24" fill="#333333">Momentum Signal</text>
<path d="M592.13,1023.20H624.47L608.30,1002.20Z" fill="#008000"/>
<text x="648.3" y="1024.8" font-size="24" fill="#333333">Accumulation</text>
</svg></body></html>
